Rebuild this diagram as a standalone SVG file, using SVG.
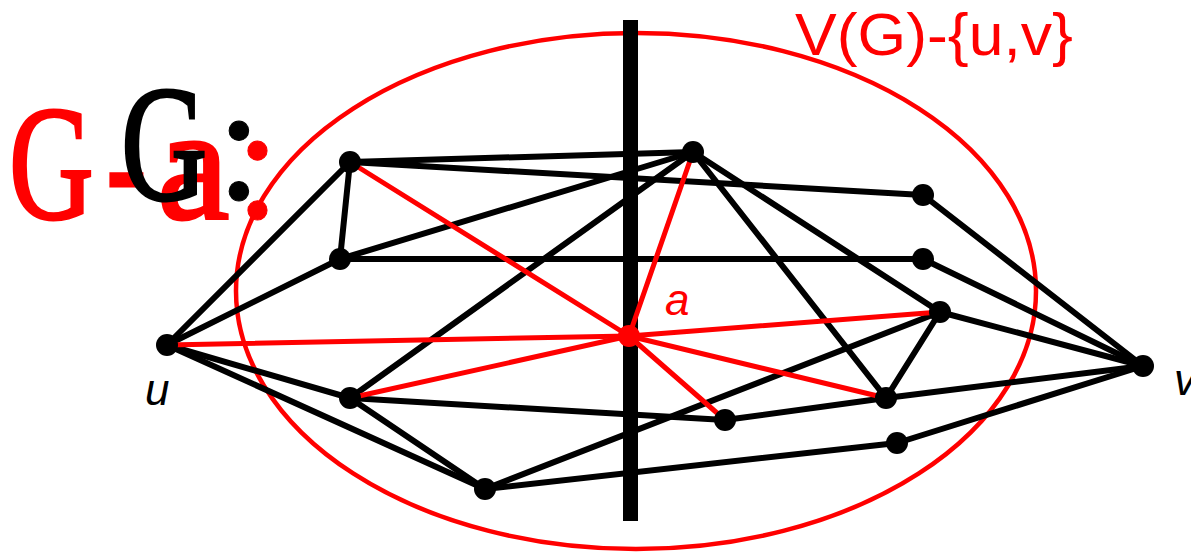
<svg xmlns="http://www.w3.org/2000/svg" width="1191" height="556" viewBox="0 0 1191 556">
<style>
.e{stroke:#000;stroke-width:6;fill:none;stroke-linecap:round}
.r{stroke:#f00;stroke-width:5;fill:none;stroke-linecap:round}
.n{fill:#000}
.lbl{font-family:"Liberation Sans",Arial,sans-serif;font-style:italic;font-size:44px}
.big{font-family:"Liberation Serif","Times New Roman",serif;stroke-width:3;stroke-linejoin:miter}
.rb{fill:#f00;stroke:#f00;font-size:163px}
.bb{fill:#000;stroke:#000;font-size:166px}
.col{stroke-width:1}
</style>
<rect width="1191" height="556" fill="#fff"/>
<ellipse cx="636" cy="291" rx="400" ry="258" fill="none" stroke="#f00" stroke-width="4.5"/>
<g id="title-ga">
<text class="big rb" transform="translate(9,218) scale(0.72,1)">G</text>
<text class="big rb" transform="translate(106,218) scale(0.75,1)">-</text>
<text class="big rb" transform="translate(157,218)">a</text>
<text class="big rb col" transform="translate(235,218)">:</text>
</g>
<g id="title-g">
<text class="big bb" transform="translate(121,199) scale(0.72,1)">G</text>
<text class="big bb col" transform="translate(216,199)">:</text>
</g>
<text x="795" y="55" fill="#f00" font-family="Liberation Sans,Arial,sans-serif" font-size="60" textLength="278" lengthAdjust="spacingAndGlyphs">V(G)-{u,v}</text>
<rect id="cut" x="623" y="20" width="15" height="501" fill="#000"/>
<g id="connectors">
<line class="e" x1="167" y1="345" x2="350" y2="162"/>
<line class="e" x1="167" y1="345" x2="340" y2="259"/>
<line class="e" x1="167" y1="345" x2="350" y2="398"/>
<line class="e" x1="167" y1="345" x2="485" y2="489"/>
<line class="e" x1="350" y1="162" x2="340" y2="259"/>
<line class="e" x1="350" y1="162" x2="693" y2="152"/>
<line class="e" x1="350" y1="162" x2="923" y2="195"/>
<line class="e" x1="340" y1="259" x2="693" y2="152"/>
<line class="e" x1="340" y1="259" x2="923" y2="259"/>
<line class="e" x1="350" y1="398" x2="693" y2="152"/>
<line class="e" x1="350" y1="398" x2="725" y2="420"/>
<line class="e" x1="350" y1="398" x2="485" y2="489"/>
<line class="e" x1="485" y1="489" x2="940" y2="312"/>
<line class="e" x1="485" y1="489" x2="897" y2="443"/>
<line class="e" x1="693" y1="152" x2="940" y2="312"/>
<line class="e" x1="693" y1="152" x2="886" y2="398"/>
<line class="e" x1="923" y1="195" x2="1143" y2="366"/>
<line class="e" x1="923" y1="259" x2="1143" y2="366"/>
<line class="e" x1="940" y1="312" x2="1143" y2="366"/>
<line class="e" x1="940" y1="312" x2="886" y2="398"/>
<line class="e" x1="725" y1="420" x2="886" y2="398"/>
<line class="e" x1="886" y1="398" x2="1143" y2="366"/>
<line class="e" x1="897" y1="443" x2="1143" y2="366"/>
<line class="r" x1="629" y1="336" x2="350" y2="162"/>
<line class="r" x1="629" y1="336" x2="693" y2="152"/>
<line class="r" x1="629" y1="336" x2="167" y2="345"/>
<line class="r" x1="629" y1="336" x2="350" y2="398"/>
<line class="r" x1="629" y1="336" x2="940" y2="312"/>
<line class="r" x1="629" y1="336" x2="886" y2="398"/>
<line class="r" x1="629" y1="336" x2="725" y2="420"/>
</g>
<g id="u"><circle class="n" cx="167" cy="345" r="11"/><text class="lbl" x="145" y="405">u</text></g>
<g id="n1"><circle class="n" cx="350" cy="162" r="11"/></g>
<g id="n2"><circle class="n" cx="340" cy="259" r="11"/></g>
<g id="n3"><circle class="n" cx="350" cy="398" r="11"/></g>
<g id="n4"><circle class="n" cx="485" cy="489" r="11"/></g>
<g id="n5"><circle class="n" cx="693" cy="152" r="11"/></g>
<g id="n6"><circle class="n" cx="923" cy="195" r="11"/></g>
<g id="n7"><circle class="n" cx="923" cy="259" r="11"/></g>
<g id="n8"><circle class="n" cx="940" cy="312" r="11"/></g>
<g id="n9"><circle class="n" cx="886" cy="398" r="11"/></g>
<g id="n10"><circle class="n" cx="725" cy="420" r="11"/></g>
<g id="n11"><circle class="n" cx="897" cy="443" r="11"/></g>
<g id="v"><circle class="n" cx="1143" cy="366" r="11"/><text class="lbl" x="1174" y="395">v</text></g>
<g id="a"><circle cx="629" cy="336" r="11" fill="#f00"/><text class="lbl" x="665" y="315" fill="#f00">a</text></g>
</svg>
